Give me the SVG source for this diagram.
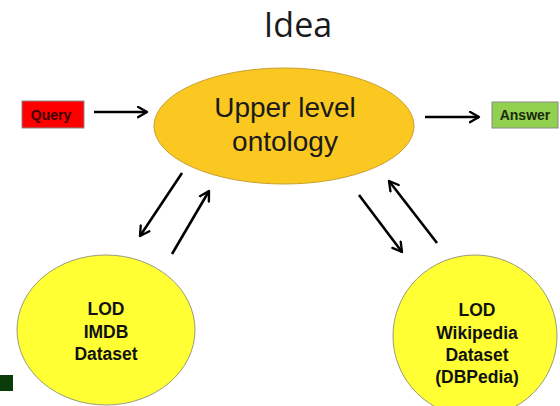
<svg xmlns="http://www.w3.org/2000/svg" width="560" height="406" viewBox="0 0 560 406">
<style>
.bold{font-family:"Liberation Sans",Arial,sans-serif;font-weight:bold;fill:#111;text-anchor:middle}
.big{font-family:"Liberation Sans",Arial,sans-serif;fill:#1a1a1a;text-anchor:middle}
.title{font-family:"Open Sans","Liberation Sans",sans-serif;fill:#1a1a1a;text-anchor:middle}
.conn{stroke:#000;stroke-width:2.6;fill:none;marker-end:url(#ah)}
</style>
<defs>
<marker id="ah" viewBox="0 0 10 10" refX="8" refY="5" markerWidth="5" markerHeight="5" orient="auto" markerUnits="strokeWidth">
<path d="M1,1 L8,5 L1,9" fill="none" stroke="#000" stroke-width="1.8" stroke-linecap="round" stroke-linejoin="round"/>
</marker>
</defs>
<rect width="560" height="406" fill="#fff"/>
<text x="298" y="37" class="title" font-size="34">Idea</text>
<g id="query">
<rect x="22" y="101" width="62" height="27" fill="#FF0000" stroke="#8a8a8a" stroke-width="1"/>
<text x="51" y="120" class="bold" font-size="14" style="fill:#3a0000">Query</text>
</g>
<g id="answer">
<rect x="492" y="102" width="66" height="26" fill="#92D050" stroke="#8a8a8a" stroke-width="1"/>
<text x="525" y="120" class="bold" font-size="14" style="fill:#1a2a0a">Answer</text>
</g>
<g id="ontology">
<ellipse cx="284" cy="126" rx="130" ry="58" fill="#FBC822" stroke="#C9A030" stroke-width="1"/>
<text x="285" y="117" class="big" font-size="28">Upper level</text>
<text x="285" y="151" class="big" font-size="28">ontology</text>
</g>
<g id="imdb">
<ellipse cx="106" cy="330" rx="89" ry="75" fill="#FFFF33" stroke="#9a9a7a" stroke-width="1"/>
<text x="106" y="315" class="bold" font-size="17.5">LOD</text>
<text x="106" y="338" class="bold" font-size="17.5">IMDB</text>
<text x="106" y="360" class="bold" font-size="17.5">Dataset</text>
</g>
<g id="dbpedia">
<ellipse cx="475" cy="336" rx="82" ry="81" fill="#FFFF33" stroke="#9a9a7a" stroke-width="1"/>
<text x="477" y="316" class="bold" font-size="17.5">LOD</text>
<text x="477" y="339" class="bold" font-size="17.5">Wikipedia</text>
<text x="477" y="361" class="bold" font-size="17.5">Dataset</text>
<text x="477" y="383" class="bold" font-size="17.5">(DBPedia)</text>
</g>
<rect x="0" y="375" width="13" height="16" fill="#0A3D0A"/>
<g id="connectors">
<line x1="94" y1="112" x2="147" y2="112" class="conn"/>
<line x1="425" y1="117" x2="479" y2="117" class="conn"/>
<line x1="182" y1="173" x2="140" y2="236" class="conn"/>
<line x1="172" y1="254" x2="209" y2="191" class="conn"/>
<line x1="359" y1="195" x2="402" y2="252" class="conn"/>
<line x1="437" y1="243" x2="389" y2="181" class="conn"/>
</g>
</svg>
